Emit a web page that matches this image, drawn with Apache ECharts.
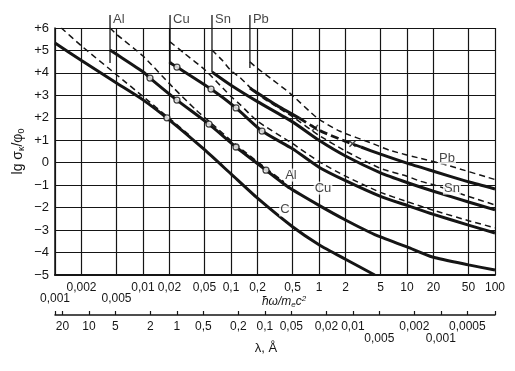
<!DOCTYPE html>
<html><head><meta charset="utf-8">
<script src="https://cdn.jsdelivr.net/npm/echarts@6/dist/echarts.min.js"></script>
<style>html,body{margin:0;padding:0;background:#fff}#c{width:515px;height:371px}</style>
</head><body><div id="c"></div>
<script>
// ---- axis ticks ----
const xTicks = [0.001,0.002,0.005,0.01,0.02,0.05,0.1,0.2,0.5,1,2,5,10,20,50,100];
const xTicksLower = [0.001,0.005];
const lambdaTicks = [20,10,5,2,1,0.5,0.2,0.1,0.05,0.02,0.01,0.005,0.002,0.001,0.0005];
const lambdaLower = [0.005,0.001];
const COMPTON_A = 0.024263; // lambda(Å) = COMPTON_A / (ħω/mc²)

// ---- curves: [ħω/mc², lg σK/φ0] ----
const cSolid  = [[0.001,5.33],[0.002,4.55],[0.005,3.55],[0.01,2.8],[0.02,1.9],[0.05,0.58],[0.1,-0.5],[0.2,-1.58],[0.5,-2.85],[1,-3.65],[2,-4.3],[4.3,-5.0]];
const cDashed = [[0.00118,6.0],[0.002,5.2],[0.005,3.92],[0.01,2.95],[0.02,1.97],[0.035,1.17]];
const alSolid = [[0.00422,5.02],[0.005,4.83],[0.01,4.05],[0.012,3.77],[0.0243,2.79],[0.0562,1.72],[0.114,0.70],[0.25,-0.33],[0.466,-1.13],[1,-1.9],[2,-2.55],[4.3,-3.2],[10,-3.75],[19.5,-4.2],[50,-4.55],[100,-4.78]];
const alDashed = [[0.00422,6.0],[0.005,5.72],[0.01,4.75],[0.022,3.35],[0.04,2.35],[0.0562,1.85],[0.114,0.8],[0.25,-0.25],[0.4,-0.85]];
const cuSolid = [[0.0205,4.44],[0.0243,4.26],[0.0593,3.28],[0.114,2.44],[0.225,1.41],[0.5,0.62],[1,-0.2],[2,-0.8],[5,-1.5],[10,-1.9],[20,-2.3],[50,-2.78],[100,-3.13]];
const cuDashed = [[0.0203,5.38],[0.03,4.85],[0.0507,4.13],[0.1,2.95],[0.126,2.6],[0.2,1.85],[0.5,0.85],[1,0.05],[2,-0.6],[5,-1.32],[10,-1.73],[20,-2.12],[50,-2.58],[100,-2.9]];
const snSolid = [[0.0608,4.04],[0.1,3.45],[0.2,2.72],[0.5,1.82],[1,1.0],[2,0.3],[5,-0.45],[10,-0.88],[20,-1.27],[50,-1.75],[100,-2.1]];
const snDashed = [[0.0608,5.02],[0.08,4.55],[0.1,4.1],[0.126,3.8],[0.2,3.05],[0.5,2.05],[1,1.22],[2,0.52],[5,-0.25],[10,-0.6],[14,-0.82],[20,-0.98],[50,-1.5],[100,-1.88]];
const pbSolid = [[0.164,3.33],[0.2,3.1],[0.316,2.6],[0.6,1.98],[1,1.45],[2,0.95],[3,0.7],[5,0.38],[10,-0.02],[20,-0.38],[50,-0.85],[100,-1.17]];
const pbDashed = [[0.164,4.49],[0.2,4.2],[0.3,3.68],[0.466,3.1],[0.95,2.0],[1.73,1.4],[4.1,0.85],[6.4,0.55],[14,0.2],[28,-0.1],[100,-0.75]];

// ---- measured points ----
const circlePts = [[0.0187,2.0],[0.012,3.77],[0.0243,2.79],[0.0562,1.72],[0.114,0.70],[0.25,-0.33],[0.0243,4.26],[0.0593,3.28],[0.114,2.44],[0.225,1.41]];
const crossPts = [[0.9,1.55],[2.4,0.85]];
const dotPts = [[0.0205,4.44]];

// ---- K edges ----
const edgeNames = ['Al','Cu','Sn','Pb'];
const edgeX = [0.00422,0.0203,0.0608,0.164];
const edgeBottom = [4.44,4.44,4.04,4.22];
const edgeTop = 6.58;

// ---- curve labels ----
const labelNames = ['Pb','Sn','Al','Cu','C'];
const labelX = [28.5,32.4,0.48,1.11,0.41];
const labelY = [0.21,-1.13,-0.55,-1.13,-2.1];

const L = Math.log10;
const toLog = pts => pts.map(([x,y]) => [L(x), y]);
const fmtNum = v => String(v).replace('.', ',');
const FONT = 'Liberation Sans';
const INK = '#151515';

function curve(pts, w, dash){
  return {type:'line', data:toLog(pts), symbol:'none', showSymbol:false, smooth:0.2,
    lineStyle:{color:INK, width:w, type: dash || 'solid'}, z:3, silent:true};
}
function between(pts, a, b){ return pts.filter(p => p[0] >= a - 1e-9 && p[0] <= b + 1e-9); }

const xPos = xTicks.map(L);
const xUpper = xTicks.filter(t => !xTicksLower.includes(t));
const lamPos = lambdaTicks.map(l => L(COMPTON_A / l));
const lamUpper = lambdaTicks.filter(l => !lambdaLower.includes(l));
const lamToPos = l => L(COMPTON_A / l);
const posToLam = v => lambdaTicks.find(l => Math.abs(lamToPos(l) - v) < 1e-6);
const posToX = v => xTicks.find(t => Math.abs(L(t) - v) < 1e-6);

const series = [
  curve(cSolid, 3), curve(cDashed, 1.5, [6,4]),
  curve(alSolid, 3), curve(alDashed, 1.5, [6,4]),
  curve(cuSolid, 3), curve(cuDashed, 1.5, [6,4]),
  curve(snSolid, 3), curve(snDashed, 1.5, [6,4]),
  curve(between(pbSolid, 0, 0.6), 3), curve(between(pbSolid, 0.6, 3), 2.8, [8,4]), curve(between(pbSolid, 3, 1000), 3),
  curve(pbDashed, 1.5, [6,4]),
];
edgeNames.forEach((n,i) => {
  series.push({type:'line', data:[[L(edgeX[i]), edgeTop],[L(edgeX[i]), edgeBottom[i]]], symbol:'none', clip:false,
    lineStyle:{color:INK, width:1.3}, z:2, silent:true});
});
series.push({type:'scatter', clip:false, symbolSize:0, silent:true, z:6,
  data: edgeNames.map((n,i) => ({value:[L(edgeX[i]), 6.4], name:n})),
  label:{show:true, position:'right', distance:3, formatter:p => p.name, color:INK, fontFamily:FONT, fontSize:13}});
series.push({type:'scatter', symbol:'circle', symbolSize:6, data:toLog(circlePts), silent:true, z:6,
  itemStyle:{color:'#fff', borderColor:INK, borderWidth:1.3}});
series.push({type:'scatter', symbol:'path://M0,0L10,10M10,0L0,10', symbolSize:6, data:toLog(crossPts), silent:true, z:6,
  itemStyle:{color:'none', borderColor:INK, borderWidth:1.4}});
series.push({type:'scatter', symbol:'circle', symbolSize:3.5, data:toLog(dotPts), silent:true, z:6,
  itemStyle:{color:INK}});
series.push({type:'scatter', symbolSize:0, silent:true, z:7,
  data: labelNames.map((n,i) => ({value:[L(labelX[i]), labelY[i]], name:n})),
  label:{show:true, position:'inside', formatter:p => p.name, color:INK, fontFamily:FONT, fontSize:13,
    backgroundColor:'#fff', padding:[0,1]}});

const lbl = {fontSize:12, color:INK, fontFamily:FONT, showMinLabel:true, showMaxLabel:true, hideOverlap:false};
const bare = {type:'value', min:-3, max:2, position:'bottom', axisLine:{show:false, onZero:false}, axisTick:{show:false}, splitLine:{show:false}};

const option = {
  animation:false,
  backgroundColor:'#fff',
  textStyle:{fontFamily:FONT, color:INK},
  grid:{left:55, right:20, top:28, bottom:96, containLabel:false, outerBoundsMode:'none'},
  xAxis:[{
    type:'value', min:-3, max:2, position:'bottom',
    name:'ħω/m{s|e}c{p|2}', nameLocation:'middle', nameGap:20, nameMoveOverlap:false,
    nameTextStyle:{fontFamily:FONT, fontSize:12, fontStyle:'italic', color:INK, padding:[0,0,0,18],
      rich:{s:{fontSize:8, fontStyle:'italic', padding:[6,0,0,0]}, p:{fontSize:8, padding:[0,0,6,0]}}},
    axisLine:{show:true, onZero:false, lineStyle:{color:INK, width:2}},
    axisTick:{show:false, customValues:xPos},
    axisLabel:Object.assign({customValues:xUpper.map(L), margin:7, formatter:v => fmtNum(posToX(v))}, lbl),
    splitLine:{show:true, lineStyle:{color:INK, width:1.2}}
  },
  Object.assign({}, bare, {offset:0,
    axisLabel:Object.assign({customValues:xTicksLower.map(L), margin:18, formatter:v => fmtNum(posToX(v))}, lbl)}),
  {
    type:'value', min:-3, max:2, position:'bottom', offset:40,
    name:'λ, Å', nameLocation:'middle', nameGap:27, nameMoveOverlap:false,
    nameTextStyle:{fontFamily:FONT, fontSize:13, color:INK, padding:[0,0,0,-18]},
    axisLine:{show:true, onZero:false, lineStyle:{color:INK, width:1.5}},
    axisTick:{show:true, inside:true, length:4, customValues:[-3].concat(lamPos,[2]), lineStyle:{color:INK, width:1.2}},
    axisLabel:Object.assign({customValues:lamUpper.map(lamToPos), margin:6, formatter:v => fmtNum(posToLam(v))}, lbl),
    splitLine:{show:false}
  },
  Object.assign({}, bare, {offset:40,
    axisLabel:Object.assign({customValues:lambdaLower.map(lamToPos), margin:18, formatter:v => fmtNum(posToLam(v))}, lbl)})
  ],
  yAxis:{
    type:'value', min:-5, max:6, interval:1,
    name:'lg σ{k|κ}/φ{k|0}', nameLocation:'middle', nameRotate:90, nameGap:29, nameMoveOverlap:false,
    nameTextStyle:{fontFamily:FONT, fontSize:14, color:INK, rich:{k:{fontSize:9, padding:[7,0,0,0]}}},
    axisLine:{show:true, onZero:false, lineStyle:{color:INK, width:1.5}},
    axisTick:{show:false},
    axisLabel:{margin:6, fontSize:13, color:INK, fontFamily:FONT,
      formatter:v => v > 0 ? '+' + v : (v < 0 ? '−' + (-v) : '0')},
    splitLine:{show:true, lineStyle:{color:INK, width:1.2}}
  },
  series
};
const chart = echarts.init(document.getElementById('c'));
chart.setOption(option);
</script></body></html>
